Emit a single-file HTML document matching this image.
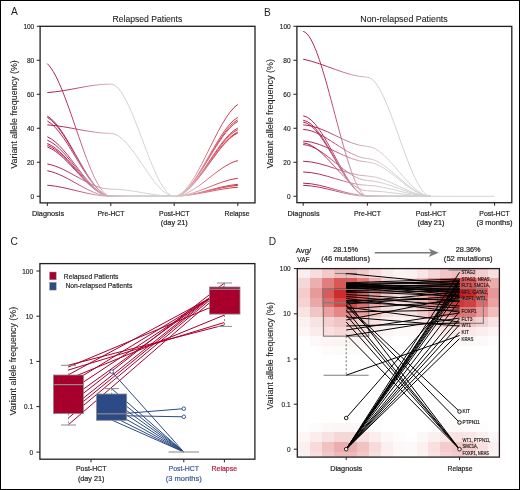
<!DOCTYPE html><html><head><meta charset="utf-8"><style>html,body{margin:0;padding:0;background:#fff;}body{width:520px;height:490px;overflow:hidden;position:relative;} .frame{position:absolute;left:0;top:0;width:520px;height:490px;box-sizing:border-box;border:1px solid #000;border-right-width:1.5px;border-bottom-width:1.5px;pointer-events:none;}</style></head><body><svg width="520" height="490" viewBox="0 0 520 490" font-family="Liberation Sans, sans-serif" style="display:block;will-change:transform">
<rect x="0" y="0" width="520" height="490" fill="#fff"/>
<defs>
<linearGradient id="gA" gradientUnits="userSpaceOnUse" x1="40" y1="0" x2="255" y2="0"><stop offset="0.0326" stop-color="#a8103e"/><stop offset="0.1395" stop-color="#b02c58"/><stop offset="0.2558" stop-color="#c88aa2"/><stop offset="0.3256" stop-color="#d2b8c2"/><stop offset="0.4093" stop-color="#d0d0d0"/><stop offset="0.6233" stop-color="#d2d2d2"/><stop offset="0.6977" stop-color="#dcaab2"/><stop offset="0.8140" stop-color="#d45060"/><stop offset="0.9209" stop-color="#c81e30"/></linearGradient>
<linearGradient id="gB" gradientUnits="userSpaceOnUse" x1="297" y1="0" x2="512" y2="0"><stop offset="0.0279" stop-color="#a8103e"/><stop offset="0.1349" stop-color="#b02c58"/><stop offset="0.2558" stop-color="#c88aa2"/><stop offset="0.3256" stop-color="#d2b8c2"/><stop offset="0.4093" stop-color="#d0d0d0"/><stop offset="0.9209" stop-color="#d2d2d2"/></linearGradient>
</defs>
<g fill="none" stroke="url(#gA)" stroke-width="0.95">
<path d="M47.30,63.65 C68.47,83.54 89.63,196.25 110.80,196.25 C131.93,196.25 153.07,196.25 174.20,196.25"/>
<path d="M47.30,92.55 C68.47,91.27 89.63,84.05 110.80,84.05 C131.93,84.05 153.07,196.25 174.20,196.25"/>
<path d="M47.30,116.01 C68.47,128.05 89.63,196.25 110.80,196.25 C131.93,196.25 153.07,196.25 174.20,196.25"/>
<path d="M47.30,117.37 C68.47,129.20 89.63,196.25 110.80,196.25 C131.93,196.25 153.07,196.25 174.20,196.25"/>
<path d="M47.30,120.94 C68.47,132.24 89.63,196.25 110.80,196.25 C131.93,196.25 153.07,196.25 174.20,196.25"/>
<path d="M47.30,124.85 C68.47,126.12 89.63,133.35 110.80,133.35 C131.93,133.35 153.07,196.25 174.20,196.25"/>
<path d="M47.30,136.75 C68.47,145.68 89.63,196.25 110.80,196.25 C131.93,196.25 153.07,196.25 174.20,196.25"/>
<path d="M47.30,140.15 C68.47,148.56 89.63,196.25 110.80,196.25 C131.93,196.25 153.07,196.25 174.20,196.25"/>
<path d="M47.30,143.55 C68.47,151.46 89.63,196.25 110.80,196.25 C131.93,196.25 153.07,196.25 174.20,196.25"/>
<path d="M47.30,145.25 C68.47,152.90 89.63,196.25 110.80,196.25 C131.93,196.25 153.07,196.25 174.20,196.25"/>
<path d="M47.30,146.95 C68.47,154.34 89.63,196.25 110.80,196.25 C131.93,196.25 153.07,196.25 174.20,196.25"/>
<path d="M47.30,163.95 C68.47,167.72 89.63,189.11 110.80,189.11 C131.93,189.11 153.07,196.25 174.20,196.25"/>
<path d="M47.30,170.75 C68.47,174.57 89.63,196.25 110.80,196.25 C131.93,196.25 153.07,196.25 174.20,196.25"/>
<path d="M47.30,185.20 C68.47,186.86 89.63,196.25 110.80,196.25 C131.93,196.25 153.07,196.25 174.20,196.25"/>
<path d="M174.20,196.25 C195.40,196.25 216.60,118.22 237.80,104.45"/>
<path d="M174.20,196.25 C195.40,196.25 216.60,129.20 237.80,117.37"/>
<path d="M174.20,196.25 C195.40,196.25 216.60,131.22 237.80,119.75"/>
<path d="M174.20,196.25 C195.40,196.25 216.60,132.67 237.80,121.45"/>
<path d="M174.20,196.25 C195.40,196.25 216.60,138.31 237.80,128.08"/>
<path d="M174.20,196.25 C195.40,196.25 216.60,139.61 237.80,129.61"/>
<path d="M174.20,196.25 C195.40,196.25 216.60,141.63 237.80,131.99"/>
<path d="M174.20,196.25 C195.40,196.25 216.60,142.50 237.80,133.01"/>
<path d="M174.20,196.25 C195.40,196.25 216.60,165.91 237.80,160.55"/>
<path d="M174.20,196.25 C195.40,196.25 216.60,180.93 237.80,178.23"/>
<path d="M174.20,196.25 C195.40,196.25 216.60,186.13 237.80,184.35"/>
<path d="M174.20,196.25 C195.40,196.25 216.60,187.00 237.80,185.37"/>
<path d="M174.20,196.25 C195.40,196.25 216.60,188.59 237.80,187.24"/>
<path d="M110.80,196.25 L174.20,196.25"/>
</g>
<g stroke="#231f20" fill="none">
<rect x="40.1" y="26.3" width="214.9" height="176.6" stroke-width="1.3"/>
<line x1="36.8" y1="196.25" x2="40" y2="196.25" stroke-width="1"/>
<line x1="36.8" y1="162.25" x2="40" y2="162.25" stroke-width="1"/>
<line x1="36.8" y1="128.25" x2="40" y2="128.25" stroke-width="1"/>
<line x1="36.8" y1="94.25" x2="40" y2="94.25" stroke-width="1"/>
<line x1="36.8" y1="60.25" x2="40" y2="60.25" stroke-width="1"/>
<line x1="36.8" y1="26.25" x2="40" y2="26.25" stroke-width="1"/>
<line x1="47.3" y1="203" x2="47.3" y2="206" stroke-width="1"/>
<line x1="110.8" y1="203" x2="110.8" y2="206" stroke-width="1"/>
<line x1="174.2" y1="203" x2="174.2" y2="206" stroke-width="1"/>
<line x1="237.8" y1="203" x2="237.8" y2="206" stroke-width="1"/>
</g>
<text x="34.20" y="198.85" font-size="7.2" text-anchor="end" fill="#231f20" stroke="#231f20" stroke-width="0.16" textLength="3.60" lengthAdjust="spacingAndGlyphs" >0</text>
<text x="34.20" y="164.85" font-size="7.2" text-anchor="end" fill="#231f20" stroke="#231f20" stroke-width="0.16" textLength="7.30" lengthAdjust="spacingAndGlyphs" >20</text>
<text x="34.20" y="130.85" font-size="7.2" text-anchor="end" fill="#231f20" stroke="#231f20" stroke-width="0.16" textLength="7.30" lengthAdjust="spacingAndGlyphs" >40</text>
<text x="34.20" y="96.85" font-size="7.2" text-anchor="end" fill="#231f20" stroke="#231f20" stroke-width="0.16" textLength="7.30" lengthAdjust="spacingAndGlyphs" >60</text>
<text x="34.20" y="62.85" font-size="7.2" text-anchor="end" fill="#231f20" stroke="#231f20" stroke-width="0.16" textLength="7.30" lengthAdjust="spacingAndGlyphs" >80</text>
<text x="34.20" y="28.85" font-size="7.2" text-anchor="end" fill="#231f20" stroke="#231f20" stroke-width="0.16" textLength="10.80" lengthAdjust="spacingAndGlyphs" >100</text>
<text x="11.00" y="15.30" font-size="10.2" text-anchor="start" fill="#231f20" stroke="#231f20" stroke-width="0" >A</text>
<text x="147.40" y="21.90" font-size="8.7" text-anchor="middle" fill="#231f20" stroke="#231f20" stroke-width="0.1" textLength="69.80" lengthAdjust="spacingAndGlyphs" >Relapsed Patients</text>
<text x="0.00" y="0.00" font-size="9.6" text-anchor="middle" fill="#231f20" stroke="#231f20" stroke-width="0.1" textLength="108.50" lengthAdjust="spacingAndGlyphs" transform="translate(16.5,114.5) rotate(-90)">Variant allele frequency (%)</text>
<text x="48.00" y="216.20" font-size="7.3" text-anchor="middle" fill="#231f20" stroke="#231f20" stroke-width="0.2" textLength="32.10" lengthAdjust="spacingAndGlyphs" >Diagnosis</text>
<text x="111.00" y="216.20" font-size="7.3" text-anchor="middle" fill="#231f20" stroke="#231f20" stroke-width="0.2" textLength="26.80" lengthAdjust="spacingAndGlyphs" >Pre-HCT</text>
<text x="174.30" y="216.20" font-size="7.3" text-anchor="middle" fill="#231f20" stroke="#231f20" stroke-width="0.2" textLength="30.50" lengthAdjust="spacingAndGlyphs" >Post-HCT</text>
<text x="174.30" y="225.20" font-size="7.3" text-anchor="middle" fill="#231f20" stroke="#231f20" stroke-width="0.2" textLength="27.00" lengthAdjust="spacingAndGlyphs" >(day 21)</text>
<text x="237.00" y="216.20" font-size="7.3" text-anchor="middle" fill="#231f20" stroke="#231f20" stroke-width="0.2" textLength="25.00" lengthAdjust="spacingAndGlyphs" >Relapse</text>
<g fill="none" stroke="url(#gB)" stroke-width="0.95">
<path d="M303.20,31.35 C324.60,36.85 346.00,196.25 367.40,196.25 C388.53,196.25 409.67,196.25 430.80,196.25"/>
<path d="M303.20,59.23 C324.60,63.43 346.00,76.35 367.40,77.25 C388.53,78.14 409.67,196.25 430.80,196.25"/>
<path d="M303.20,115.84 C324.60,118.52 346.00,196.25 367.40,196.25 C388.53,196.25 409.67,196.25 430.80,196.25"/>
<path d="M303.20,120.26 C324.60,122.79 346.00,196.25 367.40,196.25 C388.53,196.25 409.67,196.25 430.80,196.25"/>
<path d="M303.20,122.13 C324.60,124.60 346.00,196.25 367.40,196.25 C388.53,196.25 409.67,196.25 430.80,196.25"/>
<path d="M303.20,124.85 C324.60,125.57 346.00,145.36 367.40,146.44 C388.53,147.51 409.67,196.25 430.80,196.25"/>
<path d="M303.20,129.44 C324.60,130.41 346.00,157.06 367.40,158.51 C388.53,159.95 409.67,196.25 430.80,196.25"/>
<path d="M303.20,141.00 C324.60,141.70 346.00,161.03 367.40,162.08 C388.53,163.12 409.67,196.25 430.80,196.25"/>
<path d="M303.20,142.87 C324.60,144.47 346.00,190.53 367.40,190.81 C388.53,191.08 409.67,196.25 430.80,196.25"/>
<path d="M303.20,144.57 C324.60,145.77 346.00,179.64 367.40,180.44 C388.53,181.23 409.67,196.25 430.80,196.25"/>
<path d="M303.20,161.23 C324.60,161.72 346.00,175.28 367.40,176.02 C388.53,176.75 409.67,196.25 430.80,196.25"/>
<path d="M303.20,171.94 C324.60,172.39 346.00,184.82 367.40,185.37 C388.53,185.91 409.67,196.25 430.80,196.25"/>
<path d="M303.20,183.16 C324.60,183.57 346.00,195.54 367.40,195.57 C388.53,195.60 409.67,196.25 430.80,196.25"/>
<path d="M303.20,185.37 C324.60,185.73 346.00,196.25 367.40,196.25 C388.53,196.25 409.67,196.25 430.80,196.25"/>
<path d="M367.40,196.25 L494.60,196.25"/>
</g>
<g stroke="#231f20" fill="none">
<rect x="296.9" y="26.4" width="214.9" height="176.3" stroke-width="1.3"/>
<line x1="293.4" y1="196.25" x2="296.8" y2="196.25" stroke-width="1"/>
<line x1="293.4" y1="162.25" x2="296.8" y2="162.25" stroke-width="1"/>
<line x1="293.4" y1="128.25" x2="296.8" y2="128.25" stroke-width="1"/>
<line x1="293.4" y1="94.25" x2="296.8" y2="94.25" stroke-width="1"/>
<line x1="293.4" y1="60.25" x2="296.8" y2="60.25" stroke-width="1"/>
<line x1="293.4" y1="26.25" x2="296.8" y2="26.25" stroke-width="1"/>
<line x1="303.2" y1="202.7" x2="303.2" y2="205.7" stroke-width="1"/>
<line x1="367.4" y1="202.7" x2="367.4" y2="205.7" stroke-width="1"/>
<line x1="430.8" y1="202.7" x2="430.8" y2="205.7" stroke-width="1"/>
<line x1="494.6" y1="202.7" x2="494.6" y2="205.7" stroke-width="1"/>
</g>
<text x="290.60" y="198.85" font-size="7.2" text-anchor="end" fill="#231f20" stroke="#231f20" stroke-width="0.16" textLength="3.60" lengthAdjust="spacingAndGlyphs" >0</text>
<text x="290.60" y="164.85" font-size="7.2" text-anchor="end" fill="#231f20" stroke="#231f20" stroke-width="0.16" textLength="7.30" lengthAdjust="spacingAndGlyphs" >20</text>
<text x="290.60" y="130.85" font-size="7.2" text-anchor="end" fill="#231f20" stroke="#231f20" stroke-width="0.16" textLength="7.30" lengthAdjust="spacingAndGlyphs" >40</text>
<text x="290.60" y="96.85" font-size="7.2" text-anchor="end" fill="#231f20" stroke="#231f20" stroke-width="0.16" textLength="7.30" lengthAdjust="spacingAndGlyphs" >60</text>
<text x="290.60" y="62.85" font-size="7.2" text-anchor="end" fill="#231f20" stroke="#231f20" stroke-width="0.16" textLength="7.30" lengthAdjust="spacingAndGlyphs" >80</text>
<text x="290.60" y="28.85" font-size="7.2" text-anchor="end" fill="#231f20" stroke="#231f20" stroke-width="0.16" textLength="10.80" lengthAdjust="spacingAndGlyphs" >100</text>
<text x="264.00" y="15.60" font-size="10.2" text-anchor="start" fill="#231f20" stroke="#231f20" stroke-width="0" >B</text>
<text x="404.00" y="21.80" font-size="8.7" text-anchor="middle" fill="#231f20" stroke="#231f20" stroke-width="0.1" textLength="87.50" lengthAdjust="spacingAndGlyphs" >Non-relapsed Patients</text>
<text x="0.00" y="0.00" font-size="9.6" text-anchor="middle" fill="#231f20" stroke="#231f20" stroke-width="0.1" textLength="109.60" lengthAdjust="spacingAndGlyphs" transform="translate(273.3,113.8) rotate(-90)">Variant allele frequency (%)</text>
<text x="303.50" y="216.20" font-size="7.3" text-anchor="middle" fill="#231f20" stroke="#231f20" stroke-width="0.2" textLength="32.10" lengthAdjust="spacingAndGlyphs" >Diagnosis</text>
<text x="367.50" y="216.20" font-size="7.3" text-anchor="middle" fill="#231f20" stroke="#231f20" stroke-width="0.2" textLength="26.80" lengthAdjust="spacingAndGlyphs" >Pre-HCT</text>
<text x="431.00" y="216.20" font-size="7.3" text-anchor="middle" fill="#231f20" stroke="#231f20" stroke-width="0.2" textLength="30.50" lengthAdjust="spacingAndGlyphs" >Post-HCT</text>
<text x="431.00" y="225.20" font-size="7.3" text-anchor="middle" fill="#231f20" stroke="#231f20" stroke-width="0.2" textLength="27.00" lengthAdjust="spacingAndGlyphs" >(day 21)</text>
<text x="494.50" y="216.20" font-size="7.3" text-anchor="middle" fill="#231f20" stroke="#231f20" stroke-width="0.2" textLength="30.50" lengthAdjust="spacingAndGlyphs" >Post-HCT</text>
<text x="494.50" y="225.20" font-size="7.3" text-anchor="middle" fill="#231f20" stroke="#231f20" stroke-width="0.2" textLength="36.20" lengthAdjust="spacingAndGlyphs" >(3 months)</text>
<text x="10.60" y="245.00" font-size="10.2" text-anchor="start" fill="#231f20" stroke="#231f20" stroke-width="0" >C</text>
<rect x="39.9" y="263.6" width="215" height="195.6" fill="none" stroke="#231f20" stroke-width="1.3"/>
<line x1="36.4" y1="271.00" x2="39.8" y2="271.00" stroke="#231f20" stroke-width="1"/>
<text x="33.00" y="273.60" font-size="7.2" text-anchor="end" fill="#231f20" stroke="#231f20" stroke-width="0.16" textLength="10.80" lengthAdjust="spacingAndGlyphs" >100</text>
<line x1="36.4" y1="316.20" x2="39.8" y2="316.20" stroke="#231f20" stroke-width="1"/>
<text x="33.00" y="318.80" font-size="7.2" text-anchor="end" fill="#231f20" stroke="#231f20" stroke-width="0.16" textLength="7.30" lengthAdjust="spacingAndGlyphs" >10</text>
<line x1="36.4" y1="361.40" x2="39.8" y2="361.40" stroke="#231f20" stroke-width="1"/>
<text x="33.00" y="364.00" font-size="7.2" text-anchor="end" fill="#231f20" stroke="#231f20" stroke-width="0.16" textLength="3.60" lengthAdjust="spacingAndGlyphs" >1</text>
<line x1="36.4" y1="406.60" x2="39.8" y2="406.60" stroke="#231f20" stroke-width="1"/>
<text x="33.00" y="409.20" font-size="7.2" text-anchor="end" fill="#231f20" stroke="#231f20" stroke-width="0.16" textLength="9.00" lengthAdjust="spacingAndGlyphs" >0.1</text>
<line x1="36.4" y1="452.10" x2="39.8" y2="452.10" stroke="#231f20" stroke-width="1"/>
<text x="33.00" y="454.70" font-size="7.2" text-anchor="end" fill="#231f20" stroke="#231f20" stroke-width="0.16" textLength="3.60" lengthAdjust="spacingAndGlyphs" >0</text>
<line x1="91" y1="459.5" x2="91" y2="462.3" stroke="#231f20" stroke-width="1"/>
<line x1="183.8" y1="459.5" x2="183.8" y2="462.3" stroke="#231f20" stroke-width="1"/>
<line x1="224.4" y1="459.5" x2="224.4" y2="462.3" stroke="#231f20" stroke-width="1"/>
<text x="0.00" y="0.00" font-size="9.6" text-anchor="middle" fill="#231f20" stroke="#231f20" stroke-width="0.1" textLength="108.70" lengthAdjust="spacingAndGlyphs" transform="translate(16.4,361.2) rotate(-90)">Variant allele frequency (%)</text>
<rect x="49.6" y="272" width="6.6" height="7.8" fill="#a8002c" stroke="#999" stroke-width="0.5"/>
<rect x="49.6" y="282.3" width="6.6" height="7.8" fill="#2c4a85" stroke="#999" stroke-width="0.5"/>
<text x="63.80" y="278.60" font-size="7.8" text-anchor="start" fill="#231f20" stroke="#231f20" stroke-width="0.2" textLength="54.60" lengthAdjust="spacingAndGlyphs" >Relapsed Patients</text>
<text x="65.40" y="287.80" font-size="7.8" text-anchor="start" fill="#231f20" stroke="#231f20" stroke-width="0.2" textLength="66.90" lengthAdjust="spacingAndGlyphs" >Non-relapsed Patients</text>
<g stroke="#a8002c" stroke-width="1" fill="none">
<line x1="68.4" y1="365.2" x2="224.3" y2="325"/>
<line x1="68.4" y1="367" x2="224.3" y2="301.6"/>
<line x1="68.4" y1="370" x2="224.3" y2="322.5"/>
<line x1="68.4" y1="374.8" x2="224.3" y2="290.4"/>
<line x1="68.4" y1="379" x2="224.3" y2="315.1"/>
<line x1="68.4" y1="384.5" x2="224.3" y2="289.4"/>
<line x1="68.4" y1="392" x2="224.3" y2="288.9"/>
<line x1="68.4" y1="400" x2="224.3" y2="287.1"/>
<line x1="68.4" y1="405" x2="224.3" y2="283.1"/>
<line x1="68.4" y1="410" x2="224.3" y2="286.0"/>
<line x1="68.4" y1="413.7" x2="224.3" y2="286.7"/>
<line x1="68.4" y1="418" x2="224.3" y2="288"/>
<line x1="68.4" y1="424.7" x2="224.3" y2="290.1"/>
</g>
<g stroke="#2c4a85" stroke-width="1" fill="none">
<line x1="111.7" y1="371.6" x2="183.8" y2="452"/>
<line x1="111.7" y1="388.6" x2="183.8" y2="452"/>
<line x1="111.7" y1="394.3" x2="183.8" y2="452"/>
<line x1="111.7" y1="399.8" x2="183.8" y2="452"/>
<line x1="111.7" y1="405.4" x2="183.8" y2="452"/>
<line x1="111.7" y1="411" x2="183.8" y2="452"/>
<line x1="111.7" y1="416" x2="183.8" y2="452"/>
<line x1="111.7" y1="420" x2="183.8" y2="452"/>
<line x1="111.7" y1="414.5" x2="183.8" y2="408.7"/>
<line x1="111.7" y1="415.5" x2="183.8" y2="416.8"/>
</g>
<g stroke="#8c8c8c" stroke-width="1" fill="none">
<line x1="68.4" y1="365.3" x2="68.4" y2="425" stroke-dasharray="2,2"/>
<line x1="61" y1="365.3" x2="76" y2="365.3"/><line x1="61" y1="425" x2="76" y2="425"/>
</g>
<rect x="53.4" y="375" width="30" height="38.6" fill="#a8002c" stroke="#8c8c8c" stroke-width="0.8"/>
<line x1="53.4" y1="384.6" x2="83.4" y2="384.6" stroke="#8c8c8c" stroke-width="1.2"/>
<line x1="105" y1="388.6" x2="119" y2="388.6" stroke="#8c8c8c" stroke-width="1"/>
<line x1="111.7" y1="388.6" x2="111.7" y2="394" stroke="#8c8c8c" stroke-width="1" stroke-dasharray="2,2"/>
<rect x="96.5" y="394" width="30.2" height="26.3" fill="#2c4a85" stroke="#8c8c8c" stroke-width="0.8"/>
<line x1="96.5" y1="413.8" x2="126.7" y2="413.8" stroke="#8c8c8c" stroke-width="1.2"/>
<circle cx="111.7" cy="371.6" r="1.8" fill="#fff" stroke="#2c4a85" stroke-width="0.9"/>
<circle cx="183.8" cy="408.7" r="1.8" fill="#fff" stroke="#2c4a85" stroke-width="0.9"/>
<circle cx="183.8" cy="416.8" r="1.8" fill="#fff" stroke="#2c4a85" stroke-width="0.9"/>
<line x1="168.5" y1="452" x2="199" y2="452" stroke="#a8a8a8" stroke-width="1.4"/>
<g stroke="#8c8c8c" stroke-width="1" fill="none">
<line x1="224.5" y1="283" x2="224.5" y2="326.4" stroke-dasharray="2,2"/>
<line x1="217" y1="283" x2="232" y2="283"/><line x1="217" y1="326.4" x2="232" y2="326.4"/>
</g>
<rect x="209.4" y="287" width="30.6" height="27.1" fill="#a8002c" stroke="#8c8c8c" stroke-width="0.8"/>
<line x1="209.4" y1="289.3" x2="240" y2="289.3" stroke="#8c8c8c" stroke-width="1.2"/>
<text x="91.20" y="471.40" font-size="7.3" text-anchor="middle" fill="#231f20" stroke="#231f20" stroke-width="0.2" textLength="30.50" lengthAdjust="spacingAndGlyphs" >Post-HCT</text>
<text x="91.20" y="480.60" font-size="7.3" text-anchor="middle" fill="#231f20" stroke="#231f20" stroke-width="0.2" textLength="26.60" lengthAdjust="spacingAndGlyphs" >(day 21)</text>
<text x="183.80" y="471.40" font-size="7.3" text-anchor="middle" fill="#3b5a9a" stroke="#3b5a9a" stroke-width="0.2" textLength="30.50" lengthAdjust="spacingAndGlyphs" >Post-HCT</text>
<text x="183.80" y="480.60" font-size="7.3" text-anchor="middle" fill="#3b5a9a" stroke="#3b5a9a" stroke-width="0.2" textLength="36.00" lengthAdjust="spacingAndGlyphs" >(3 months)</text>
<text x="224.30" y="471.40" font-size="7.3" text-anchor="middle" fill="#b01c3c" stroke="#b01c3c" stroke-width="0.2" textLength="25.50" lengthAdjust="spacingAndGlyphs" >Relapse</text>
<text x="268.80" y="244.60" font-size="10.2" text-anchor="start" fill="#231f20" stroke="#231f20" stroke-width="0" >D</text>
<g shape-rendering="crispEdges"><rect x="298.00" y="268.80" width="11.90" height="9.68" fill="#fbeeee"/><rect x="309.85" y="268.80" width="11.90" height="9.68" fill="#f7dede"/><rect x="321.70" y="268.80" width="11.90" height="9.68" fill="#f2c9c9"/><rect x="333.55" y="268.80" width="11.90" height="9.68" fill="#efbaba"/><rect x="345.40" y="268.80" width="11.90" height="9.68" fill="#efbaba"/><rect x="357.25" y="268.80" width="11.90" height="9.68" fill="#f2c9c9"/><rect x="369.10" y="268.80" width="11.90" height="9.68" fill="#f7dddd"/><rect x="380.95" y="268.80" width="11.90" height="9.68" fill="#fbecec"/><rect x="392.80" y="268.80" width="11.90" height="9.68" fill="#fcf3f3"/><rect x="404.65" y="268.80" width="11.90" height="9.68" fill="#fcf1f1"/><rect x="416.50" y="268.80" width="11.90" height="9.68" fill="#f9e7e7"/><rect x="428.35" y="268.80" width="11.90" height="9.68" fill="#f5d6d6"/><rect x="440.20" y="268.80" width="11.90" height="9.68" fill="#f1c5c5"/><rect x="452.05" y="268.80" width="11.90" height="9.68" fill="#efbbbb"/><rect x="463.90" y="268.80" width="11.90" height="9.68" fill="#f0bebe"/><rect x="475.75" y="268.80" width="11.90" height="9.68" fill="#f3cdcd"/><rect x="487.60" y="268.80" width="11.90" height="9.68" fill="#f8e0e0"/><rect x="298.00" y="278.43" width="11.90" height="9.68" fill="#f6d7d7"/><rect x="309.85" y="278.43" width="11.90" height="9.68" fill="#ecafaf"/><rect x="321.70" y="278.43" width="11.90" height="9.68" fill="#e07d7d"/><rect x="333.55" y="278.43" width="11.90" height="9.68" fill="#d85858"/><rect x="345.40" y="278.43" width="11.90" height="9.68" fill="#d75858"/><rect x="357.25" y="278.43" width="11.90" height="9.68" fill="#e07c7c"/><rect x="369.10" y="278.43" width="11.90" height="9.68" fill="#ecadad"/><rect x="380.95" y="278.43" width="11.90" height="9.68" fill="#f4d2d2"/><rect x="392.80" y="278.43" width="11.90" height="9.68" fill="#f8e1e1"/><rect x="404.65" y="278.43" width="11.90" height="9.68" fill="#f6dada"/><rect x="416.50" y="278.43" width="11.90" height="9.68" fill="#f0c0c0"/><rect x="428.35" y="278.43" width="11.90" height="9.68" fill="#e69494"/><rect x="440.20" y="278.43" width="11.90" height="9.68" fill="#db6666"/><rect x="452.05" y="278.43" width="11.90" height="9.68" fill="#d54c4c"/><rect x="463.90" y="278.43" width="11.90" height="9.68" fill="#d75555"/><rect x="475.75" y="278.43" width="11.90" height="9.68" fill="#e07d7d"/><rect x="487.60" y="278.43" width="11.90" height="9.68" fill="#ecadad"/><rect x="298.00" y="288.05" width="11.90" height="9.68" fill="#f3cccc"/><rect x="309.85" y="288.05" width="11.90" height="9.68" fill="#e79a9a"/><rect x="321.70" y="288.05" width="11.90" height="9.68" fill="#d85a5a"/><rect x="333.55" y="288.05" width="11.90" height="9.68" fill="#cd2c2c"/><rect x="345.40" y="288.05" width="11.90" height="9.68" fill="#cd2c2c"/><rect x="357.25" y="288.05" width="11.90" height="9.68" fill="#d85a5a"/><rect x="369.10" y="288.05" width="11.90" height="9.68" fill="#e69797"/><rect x="380.95" y="288.05" width="11.90" height="9.68" fill="#f2c6c6"/><rect x="392.80" y="288.05" width="11.90" height="9.68" fill="#f6d9d9"/><rect x="404.65" y="288.05" width="11.90" height="9.68" fill="#f4d1d1"/><rect x="416.50" y="288.05" width="11.90" height="9.68" fill="#ecafaf"/><rect x="428.35" y="288.05" width="11.90" height="9.68" fill="#df7878"/><rect x="440.20" y="288.05" width="11.90" height="9.68" fill="#d13e3e"/><rect x="452.05" y="288.05" width="11.90" height="9.68" fill="#c91d1d"/><rect x="463.90" y="288.05" width="11.90" height="9.68" fill="#cc2828"/><rect x="475.75" y="288.05" width="11.90" height="9.68" fill="#d85a5a"/><rect x="487.60" y="288.05" width="11.90" height="9.68" fill="#e69797"/><rect x="298.00" y="297.68" width="11.90" height="9.68" fill="#f5d3d3"/><rect x="309.85" y="297.68" width="11.90" height="9.68" fill="#eaa7a7"/><rect x="321.70" y="297.68" width="11.90" height="9.68" fill="#dd6f6f"/><rect x="333.55" y="297.68" width="11.90" height="9.68" fill="#d34747"/><rect x="345.40" y="297.68" width="11.90" height="9.68" fill="#d34747"/><rect x="357.25" y="297.68" width="11.90" height="9.68" fill="#dd6f6f"/><rect x="369.10" y="297.68" width="11.90" height="9.68" fill="#eaa4a4"/><rect x="380.95" y="297.68" width="11.90" height="9.68" fill="#f3cdcd"/><rect x="392.80" y="297.68" width="11.90" height="9.68" fill="#f7dede"/><rect x="404.65" y="297.68" width="11.90" height="9.68" fill="#f5d6d6"/><rect x="416.50" y="297.68" width="11.90" height="9.68" fill="#eeb8b8"/><rect x="428.35" y="297.68" width="11.90" height="9.68" fill="#e38787"/><rect x="440.20" y="297.68" width="11.90" height="9.68" fill="#d65353"/><rect x="452.05" y="297.68" width="11.90" height="9.68" fill="#cf3636"/><rect x="463.90" y="297.68" width="11.90" height="9.68" fill="#d24040"/><rect x="475.75" y="297.68" width="11.90" height="9.68" fill="#dc6c6c"/><rect x="487.60" y="297.68" width="11.90" height="9.68" fill="#e9a3a3"/><rect x="298.00" y="307.30" width="11.90" height="9.68" fill="#f8e2e2"/><rect x="309.85" y="307.30" width="11.90" height="9.68" fill="#f1c5c5"/><rect x="321.70" y="307.30" width="11.90" height="9.68" fill="#e9a1a1"/><rect x="333.55" y="307.30" width="11.90" height="9.68" fill="#e38787"/><rect x="345.40" y="307.30" width="11.90" height="9.68" fill="#e28686"/><rect x="357.25" y="307.30" width="11.90" height="9.68" fill="#e9a0a0"/><rect x="369.10" y="307.30" width="11.90" height="9.68" fill="#f1c3c3"/><rect x="380.95" y="307.30" width="11.90" height="9.68" fill="#f7dede"/><rect x="392.80" y="307.30" width="11.90" height="9.68" fill="#fae8e8"/><rect x="404.65" y="307.30" width="11.90" height="9.68" fill="#f8e3e3"/><rect x="416.50" y="307.30" width="11.90" height="9.68" fill="#f3cdcd"/><rect x="428.35" y="307.30" width="11.90" height="9.68" fill="#ebabab"/><rect x="440.20" y="307.30" width="11.90" height="9.68" fill="#e28686"/><rect x="452.05" y="307.30" width="11.90" height="9.68" fill="#de7272"/><rect x="463.90" y="307.30" width="11.90" height="9.68" fill="#df7979"/><rect x="475.75" y="307.30" width="11.90" height="9.68" fill="#e79898"/><rect x="487.60" y="307.30" width="11.90" height="9.68" fill="#f0bebe"/><rect x="298.00" y="316.93" width="11.90" height="9.68" fill="#fcf1f1"/><rect x="309.85" y="316.93" width="11.90" height="9.68" fill="#f8e3e3"/><rect x="321.70" y="316.93" width="11.90" height="9.68" fill="#f4d1d1"/><rect x="333.55" y="316.93" width="11.90" height="9.68" fill="#f1c4c4"/><rect x="345.40" y="316.93" width="11.90" height="9.68" fill="#f1c4c4"/><rect x="357.25" y="316.93" width="11.90" height="9.68" fill="#f4d1d1"/><rect x="369.10" y="316.93" width="11.90" height="9.68" fill="#f8e2e2"/><rect x="380.95" y="316.93" width="11.90" height="9.68" fill="#fbefef"/><rect x="392.80" y="316.93" width="11.90" height="9.68" fill="#fcf4f4"/><rect x="404.65" y="316.93" width="11.90" height="9.68" fill="#fcf2f2"/><rect x="416.50" y="316.93" width="11.90" height="9.68" fill="#fae8e8"/><rect x="428.35" y="316.93" width="11.90" height="9.68" fill="#f6d9d9"/><rect x="440.20" y="316.93" width="11.90" height="9.68" fill="#f2c9c9"/><rect x="452.05" y="316.93" width="11.90" height="9.68" fill="#f0c0c0"/><rect x="463.90" y="316.93" width="11.90" height="9.68" fill="#f1c3c3"/><rect x="475.75" y="316.93" width="11.90" height="9.68" fill="#f4d1d1"/><rect x="487.60" y="316.93" width="11.90" height="9.68" fill="#f8e2e2"/><rect x="298.00" y="326.55" width="11.90" height="9.68" fill="#fdf6f6"/><rect x="309.85" y="326.55" width="11.90" height="9.68" fill="#fbecec"/><rect x="321.70" y="326.55" width="11.90" height="9.68" fill="#f8e0e0"/><rect x="333.55" y="326.55" width="11.90" height="9.68" fill="#f6d8d8"/><rect x="345.40" y="326.55" width="11.90" height="9.68" fill="#f6d8d8"/><rect x="357.25" y="326.55" width="11.90" height="9.68" fill="#f8e0e0"/><rect x="369.10" y="326.55" width="11.90" height="9.68" fill="#faecec"/><rect x="380.95" y="326.55" width="11.90" height="9.68" fill="#fdf5f5"/><rect x="392.80" y="326.55" width="11.90" height="9.68" fill="#fef9f9"/><rect x="404.65" y="326.55" width="11.90" height="9.68" fill="#fef9f9"/><rect x="416.50" y="326.55" width="11.90" height="9.68" fill="#fdf6f6"/><rect x="428.35" y="326.55" width="11.90" height="9.68" fill="#fcf1f1"/><rect x="440.20" y="326.55" width="11.90" height="9.68" fill="#faebeb"/><rect x="452.05" y="326.55" width="11.90" height="9.68" fill="#fae8e8"/><rect x="463.90" y="326.55" width="11.90" height="9.68" fill="#fae9e9"/><rect x="475.75" y="326.55" width="11.90" height="9.68" fill="#fbeeee"/><rect x="487.60" y="326.55" width="11.90" height="9.68" fill="#fdf5f5"/><rect x="309.85" y="336.18" width="11.90" height="9.68" fill="#fef9f9"/><rect x="321.70" y="336.18" width="11.90" height="9.68" fill="#fdf5f5"/><rect x="333.55" y="336.18" width="11.90" height="9.68" fill="#fcf3f3"/><rect x="345.40" y="336.18" width="11.90" height="9.68" fill="#fcf3f3"/><rect x="357.25" y="336.18" width="11.90" height="9.68" fill="#fdf5f5"/><rect x="369.10" y="336.18" width="11.90" height="9.68" fill="#fef9f9"/><rect x="380.95" y="336.18" width="11.90" height="9.68" fill="#fefcfc"/><rect x="428.35" y="336.18" width="11.90" height="9.68" fill="#fefafa"/><rect x="440.20" y="336.18" width="11.90" height="9.68" fill="#fdf8f8"/><rect x="452.05" y="336.18" width="11.90" height="9.68" fill="#fdf7f7"/><rect x="463.90" y="336.18" width="11.90" height="9.68" fill="#fdf8f8"/><rect x="475.75" y="336.18" width="11.90" height="9.68" fill="#fef9f9"/><rect x="487.60" y="336.18" width="11.90" height="9.68" fill="#fefcfc"/><rect x="321.70" y="345.80" width="11.90" height="9.68" fill="#fefbfb"/><rect x="333.55" y="345.80" width="11.90" height="9.68" fill="#fefafa"/><rect x="345.40" y="345.80" width="11.90" height="9.68" fill="#fefafa"/><rect x="357.25" y="345.80" width="11.90" height="9.68" fill="#fefbfb"/><rect x="309.85" y="422.80" width="11.90" height="9.68" fill="#fefbfb"/><rect x="321.70" y="422.80" width="11.90" height="9.68" fill="#fdf8f8"/><rect x="333.55" y="422.80" width="11.90" height="9.68" fill="#fdf6f6"/><rect x="345.40" y="422.80" width="11.90" height="9.68" fill="#fdf6f6"/><rect x="357.25" y="422.80" width="11.90" height="9.68" fill="#fdf8f8"/><rect x="369.10" y="422.80" width="11.90" height="9.68" fill="#fefbfb"/><rect x="428.35" y="422.80" width="11.90" height="9.68" fill="#fefcfc"/><rect x="440.20" y="422.80" width="11.90" height="9.68" fill="#fefafa"/><rect x="452.05" y="422.80" width="11.90" height="9.68" fill="#fef9f9"/><rect x="463.90" y="422.80" width="11.90" height="9.68" fill="#fefafa"/><rect x="475.75" y="422.80" width="11.90" height="9.68" fill="#fefcfc"/><rect x="298.00" y="432.43" width="11.90" height="9.68" fill="#fdf7f7"/><rect x="309.85" y="432.43" width="11.90" height="9.68" fill="#fbeded"/><rect x="321.70" y="432.43" width="11.90" height="9.68" fill="#f8e1e1"/><rect x="333.55" y="432.43" width="11.90" height="9.68" fill="#f6d7d7"/><rect x="345.40" y="432.43" width="11.90" height="9.68" fill="#f6d7d7"/><rect x="357.25" y="432.43" width="11.90" height="9.68" fill="#f8e1e1"/><rect x="369.10" y="432.43" width="11.90" height="9.68" fill="#fbeded"/><rect x="380.95" y="432.43" width="11.90" height="9.68" fill="#fdf7f7"/><rect x="392.80" y="432.43" width="11.90" height="9.68" fill="#fefcfc"/><rect x="416.50" y="432.43" width="11.90" height="9.68" fill="#fdf8f8"/><rect x="428.35" y="432.43" width="11.90" height="9.68" fill="#fbf0f0"/><rect x="440.20" y="432.43" width="11.90" height="9.68" fill="#f9e6e6"/><rect x="452.05" y="432.43" width="11.90" height="9.68" fill="#f8e2e2"/><rect x="463.90" y="432.43" width="11.90" height="9.68" fill="#f9e6e6"/><rect x="475.75" y="432.43" width="11.90" height="9.68" fill="#fbf0f0"/><rect x="487.60" y="432.43" width="11.90" height="9.68" fill="#fdf8f8"/><rect x="298.00" y="442.05" width="11.90" height="9.68" fill="#fbefef"/><rect x="309.85" y="442.05" width="11.90" height="9.68" fill="#f7dbdb"/><rect x="321.70" y="442.05" width="11.90" height="9.68" fill="#f1c2c2"/><rect x="333.55" y="442.05" width="11.90" height="9.68" fill="#ecafaf"/><rect x="345.40" y="442.05" width="11.90" height="9.68" fill="#ecafaf"/><rect x="357.25" y="442.05" width="11.90" height="9.68" fill="#f1c2c2"/><rect x="369.10" y="442.05" width="11.90" height="9.68" fill="#f7dbdb"/><rect x="380.95" y="442.05" width="11.90" height="9.68" fill="#fbefef"/><rect x="392.80" y="442.05" width="11.90" height="9.68" fill="#fdf8f8"/><rect x="404.65" y="442.05" width="11.90" height="9.68" fill="#fef9f9"/><rect x="416.50" y="442.05" width="11.90" height="9.68" fill="#fcf1f1"/><rect x="428.35" y="442.05" width="11.90" height="9.68" fill="#f8e0e0"/><rect x="440.20" y="442.05" width="11.90" height="9.68" fill="#f3cdcd"/><rect x="452.05" y="442.05" width="11.90" height="9.68" fill="#f1c5c5"/><rect x="463.90" y="442.05" width="11.90" height="9.68" fill="#f3cdcd"/><rect x="475.75" y="442.05" width="11.90" height="9.68" fill="#f8e0e0"/><rect x="487.60" y="442.05" width="11.90" height="9.68" fill="#fcf1f1"/><rect x="298.00" y="451.68" width="11.90" height="5.57" fill="#fcf1f1"/><rect x="309.85" y="451.68" width="11.90" height="5.57" fill="#f8e0e0"/><rect x="321.70" y="451.68" width="11.90" height="5.57" fill="#f3caca"/><rect x="333.55" y="451.68" width="11.90" height="5.57" fill="#efbaba"/><rect x="345.40" y="451.68" width="11.90" height="5.57" fill="#efbaba"/><rect x="357.25" y="451.68" width="11.90" height="5.57" fill="#f3caca"/><rect x="369.10" y="451.68" width="11.90" height="5.57" fill="#f8e0e0"/><rect x="380.95" y="451.68" width="11.90" height="5.57" fill="#fcf1f1"/><rect x="392.80" y="451.68" width="11.90" height="5.57" fill="#fef9f9"/><rect x="404.65" y="451.68" width="11.90" height="5.57" fill="#fefafa"/><rect x="416.50" y="451.68" width="11.90" height="5.57" fill="#fcf3f3"/><rect x="428.35" y="451.68" width="11.90" height="5.57" fill="#f9e4e4"/><rect x="440.20" y="451.68" width="11.90" height="5.57" fill="#f5d4d4"/><rect x="452.05" y="451.68" width="11.90" height="5.57" fill="#f3cdcd"/><rect x="463.90" y="451.68" width="11.90" height="5.57" fill="#f5d4d4"/><rect x="475.75" y="451.68" width="11.90" height="5.57" fill="#f9e4e4"/><rect x="487.60" y="451.68" width="11.90" height="5.57" fill="#fcf3f3"/></g>
<g stroke="#7d7d7d" stroke-width="1.1" fill="none">
<rect x="323.5" y="289.4" width="45.2" height="46.8"/>
<line x1="323.5" y1="302.6" x2="368.7" y2="302.6"/>
<line x1="335" y1="273.5" x2="357" y2="273.5"/>
<line x1="346.2" y1="273.5" x2="346.2" y2="289.4" stroke-dasharray="2,2"/>
<line x1="346.2" y1="336.2" x2="346.2" y2="375.2" stroke-dasharray="2,2"/>
<line x1="323.6" y1="375.2" x2="368.6" y2="375.2"/>
<rect x="437.4" y="288.3" width="46.0" height="35.0"/>
<line x1="437.4" y1="299.6" x2="483.4" y2="299.6"/>
<line x1="448.5" y1="270" x2="470.5" y2="270"/>
</g>
<g stroke="#000" stroke-width="1.0" fill="none">
<line x1="346.2" y1="282.8" x2="459.5" y2="279"/>
<line x1="346.2" y1="283.2" x2="459.5" y2="290"/>
<line x1="346.2" y1="283.6" x2="459.5" y2="281.5"/>
<line x1="346.2" y1="284.0" x2="459.5" y2="293"/>
<line x1="346.2" y1="284.4" x2="459.5" y2="283"/>
<line x1="346.2" y1="284.8" x2="459.5" y2="287"/>
<line x1="346.2" y1="285.2" x2="459.5" y2="295"/>
<line x1="346.2" y1="285.6" x2="459.5" y2="280.5"/>
<line x1="346.2" y1="286.0" x2="459.5" y2="291.5"/>
<line x1="346.2" y1="286.5" x2="459.5" y2="285"/>
<line x1="346.2" y1="287.0" x2="459.5" y2="297"/>
<line x1="346.2" y1="287.5" x2="459.5" y2="284"/>
<line x1="346.2" y1="288.0" x2="459.5" y2="289"/>
<line x1="346.2" y1="288.4" x2="459.5" y2="286.5"/>
<line x1="346.2" y1="273.5" x2="459.5" y2="284.2"/>
<line x1="346.2" y1="290.5" x2="459.5" y2="289"/>
<line x1="346.2" y1="291.5" x2="459.5" y2="296"/>
<line x1="346.2" y1="292.5" x2="459.5" y2="291"/>
<line x1="346.2" y1="294.5" x2="459.5" y2="301"/>
<line x1="346.2" y1="296.5" x2="459.5" y2="306"/>
<line x1="346.2" y1="298.5" x2="459.5" y2="312"/>
<line x1="346.2" y1="300.5" x2="459.5" y2="299"/>
<line x1="346.2" y1="301.8" x2="459.5" y2="308"/>
<line x1="346.2" y1="302.4" x2="459.5" y2="292"/>
<line x1="346.2" y1="304" x2="459.5" y2="296"/>
<line x1="346.2" y1="307" x2="459.5" y2="322"/>
<line x1="346.2" y1="309" x2="459.5" y2="301"/>
<line x1="346.2" y1="312" x2="459.5" y2="310"/>
<line x1="346.2" y1="317" x2="459.5" y2="326"/>
<line x1="346.2" y1="320" x2="459.5" y2="297.5"/>
<line x1="346.2" y1="326" x2="459.5" y2="323"/>
<line x1="346.2" y1="330" x2="459.5" y2="313"/>
<line x1="346.2" y1="336" x2="459.5" y2="318"/>
<line x1="346.2" y1="375.2" x2="459.5" y2="335.5"/>
<line x1="346.2" y1="418" x2="459.5" y2="289"/>
<line x1="346.2" y1="300" x2="459.5" y2="449.2"/>
<line x1="346.2" y1="310" x2="459.5" y2="449.2"/>
<line x1="346.2" y1="315" x2="459.5" y2="449.2"/>
<line x1="346.2" y1="322" x2="459.5" y2="449.2"/>
<line x1="346.2" y1="334.6" x2="459.5" y2="449.2"/>
<line x1="346.2" y1="305" x2="459.5" y2="411.5"/>
<line x1="346.2" y1="305.7" x2="459.5" y2="422.5"/>
<line x1="346.2" y1="449.2" x2="459.5" y2="272.3"/>
<line x1="346.2" y1="449.2" x2="459.5" y2="279.3"/>
<line x1="346.2" y1="449.2" x2="459.5" y2="281"/>
<line x1="346.2" y1="449.2" x2="459.5" y2="283"/>
<line x1="346.2" y1="449.2" x2="459.5" y2="285.7"/>
<line x1="346.2" y1="449.2" x2="459.5" y2="288"/>
<line x1="346.2" y1="449.2" x2="459.5" y2="292.1"/>
<line x1="346.2" y1="449.2" x2="459.5" y2="300.8"/>
<line x1="346.2" y1="449.2" x2="459.5" y2="311.7"/>
<line x1="346.2" y1="449.2" x2="459.5" y2="318.8"/>
<line x1="346.2" y1="449.2" x2="459.5" y2="324.8"/>
<line x1="346.2" y1="449.2" x2="459.5" y2="332.2"/>
<line x1="346.2" y1="449.2" x2="459.5" y2="338.6"/>
</g>
<circle cx="346.2" cy="418" r="1.8" fill="#f4f0f0" stroke="#231f20" stroke-width="1.0"/>
<circle cx="346.2" cy="449.2" r="1.8" fill="#f4f0f0" stroke="#231f20" stroke-width="1.0"/>
<circle cx="459.5" cy="411.5" r="1.8" fill="#f4f0f0" stroke="#231f20" stroke-width="1.0"/>
<circle cx="459.5" cy="422.5" r="1.8" fill="#f4f0f0" stroke="#231f20" stroke-width="1.0"/>
<circle cx="459.5" cy="449.2" r="1.8" fill="#f4f0f0" stroke="#231f20" stroke-width="1.0"/>
<rect x="297.3" y="268.6" width="202.1" height="188.5" fill="none" stroke="#231f20" stroke-width="1.3"/>
<line x1="293.8" y1="268.60" x2="297.2" y2="268.60" stroke="#231f20" stroke-width="1"/>
<text x="290.60" y="271.20" font-size="7.2" text-anchor="end" fill="#231f20" stroke="#231f20" stroke-width="0.16" textLength="10.80" lengthAdjust="spacingAndGlyphs" >100</text>
<line x1="293.8" y1="313.80" x2="297.2" y2="313.80" stroke="#231f20" stroke-width="1"/>
<text x="290.60" y="316.40" font-size="7.2" text-anchor="end" fill="#231f20" stroke="#231f20" stroke-width="0.16" textLength="7.30" lengthAdjust="spacingAndGlyphs" >10</text>
<line x1="293.8" y1="359.00" x2="297.2" y2="359.00" stroke="#231f20" stroke-width="1"/>
<text x="290.60" y="361.60" font-size="7.2" text-anchor="end" fill="#231f20" stroke="#231f20" stroke-width="0.16" textLength="3.60" lengthAdjust="spacingAndGlyphs" >1</text>
<line x1="293.8" y1="404.20" x2="297.2" y2="404.20" stroke="#231f20" stroke-width="1"/>
<text x="290.60" y="406.80" font-size="7.2" text-anchor="end" fill="#231f20" stroke="#231f20" stroke-width="0.16" textLength="9.00" lengthAdjust="spacingAndGlyphs" >0.1</text>
<line x1="293.8" y1="449.20" x2="297.2" y2="449.20" stroke="#231f20" stroke-width="1"/>
<text x="290.60" y="451.80" font-size="7.2" text-anchor="end" fill="#231f20" stroke="#231f20" stroke-width="0.16" textLength="3.60" lengthAdjust="spacingAndGlyphs" >0</text>
<line x1="346.2" y1="457.1" x2="346.2" y2="460" stroke="#231f20" stroke-width="1"/>
<line x1="459.5" y1="457.1" x2="459.5" y2="460" stroke="#231f20" stroke-width="1"/>
<text x="0.00" y="0.00" font-size="9.6" text-anchor="middle" fill="#231f20" stroke="#231f20" stroke-width="0.1" textLength="107.20" lengthAdjust="spacingAndGlyphs" transform="translate(273.3,355.8) rotate(-90)">Variant allele frequency (%)</text>
<text x="346.20" y="470.50" font-size="7.3" text-anchor="middle" fill="#231f20" stroke="#231f20" stroke-width="0.2" textLength="32.10" lengthAdjust="spacingAndGlyphs" >Diagnosis</text>
<text x="460.00" y="470.50" font-size="7.3" text-anchor="middle" fill="#231f20" stroke="#231f20" stroke-width="0.2" textLength="25.10" lengthAdjust="spacingAndGlyphs" >Relapse</text>
<text x="303.50" y="252.80" font-size="7.3" text-anchor="middle" fill="#231f20" stroke="#231f20" stroke-width="0.2" textLength="15.40" lengthAdjust="spacingAndGlyphs" >Avg/</text>
<text x="303.50" y="261.50" font-size="7.3" text-anchor="middle" fill="#231f20" stroke="#231f20" stroke-width="0.2" textLength="12.30" lengthAdjust="spacingAndGlyphs" >VAF</text>
<text x="345.60" y="252.20" font-size="7.3" text-anchor="middle" fill="#231f20" stroke="#231f20" stroke-width="0.2" textLength="24.80" lengthAdjust="spacingAndGlyphs" >28.15%</text>
<text x="345.60" y="261.30" font-size="7.3" text-anchor="middle" fill="#231f20" stroke="#231f20" stroke-width="0.2" textLength="48.70" lengthAdjust="spacingAndGlyphs" >(46 mutations)</text>
<text x="468.20" y="252.20" font-size="7.3" text-anchor="middle" fill="#231f20" stroke="#231f20" stroke-width="0.2" textLength="24.80" lengthAdjust="spacingAndGlyphs" >28.36%</text>
<text x="468.20" y="261.30" font-size="7.3" text-anchor="middle" fill="#231f20" stroke="#231f20" stroke-width="0.2" textLength="48.70" lengthAdjust="spacingAndGlyphs" >(52 mutations)</text>
<line x1="374.8" y1="252.7" x2="434" y2="252.7" stroke="#7a7a7a" stroke-width="1.5"/>
<path d="M438.8,252.7 L428.6,248.5 L431.5,252.7 L428.6,256.9 Z" fill="#7a7a7a"/>
<text x="461.50" y="273.70" font-size="5.5" text-anchor="start" fill="#231f20" stroke="#231f20" stroke-width="0.2" textLength="13.80" lengthAdjust="spacingAndGlyphs" >STAG2</text>
<text x="461.50" y="281.00" font-size="5.5" text-anchor="start" fill="#231f20" stroke="#231f20" stroke-width="0.2" textLength="29.40" lengthAdjust="spacingAndGlyphs" >STAG2, NRAS,</text>
<text x="461.50" y="287.30" font-size="5.5" text-anchor="start" fill="#231f20" stroke="#231f20" stroke-width="0.2" textLength="28.50" lengthAdjust="spacingAndGlyphs" >FLT3, SMC1A,</text>
<text x="461.50" y="293.50" font-size="5.5" text-anchor="start" fill="#231f20" stroke="#231f20" stroke-width="0.2" textLength="26.40" lengthAdjust="spacingAndGlyphs" >NF1, GATA2,</text>
<text x="461.50" y="300.00" font-size="5.5" text-anchor="start" fill="#231f20" stroke="#231f20" stroke-width="0.2" textLength="25.50" lengthAdjust="spacingAndGlyphs" >IKZF1, WT1,</text>
<text x="461.50" y="313.40" font-size="5.5" text-anchor="start" fill="#231f20" stroke="#231f20" stroke-width="0.2" textLength="15.00" lengthAdjust="spacingAndGlyphs" >FOXP1</text>
<text x="461.50" y="321.20" font-size="5.5" text-anchor="start" fill="#231f20" stroke="#231f20" stroke-width="0.2" textLength="11.00" lengthAdjust="spacingAndGlyphs" >FLT3</text>
<text x="461.50" y="326.80" font-size="5.5" text-anchor="start" fill="#231f20" stroke="#231f20" stroke-width="0.2" textLength="9.50" lengthAdjust="spacingAndGlyphs" >WT1</text>
<text x="461.50" y="334.20" font-size="5.5" text-anchor="start" fill="#231f20" stroke="#231f20" stroke-width="0.2" textLength="7.50" lengthAdjust="spacingAndGlyphs" >KIT</text>
<text x="461.50" y="340.60" font-size="5.5" text-anchor="start" fill="#231f20" stroke="#231f20" stroke-width="0.2" textLength="12.00" lengthAdjust="spacingAndGlyphs" >KRAS</text>
<text x="462.50" y="413.40" font-size="5.5" text-anchor="start" fill="#231f20" stroke="#231f20" stroke-width="0.2" textLength="7.50" lengthAdjust="spacingAndGlyphs" >KIT</text>
<text x="462.50" y="424.40" font-size="5.5" text-anchor="start" fill="#231f20" stroke="#231f20" stroke-width="0.2" textLength="17.50" lengthAdjust="spacingAndGlyphs" >PTPN11</text>
<text x="462.50" y="442.00" font-size="5.5" text-anchor="start" fill="#231f20" stroke="#231f20" stroke-width="0.2" textLength="28.00" lengthAdjust="spacingAndGlyphs" >WT1, PTPN11,</text>
<text x="462.50" y="448.40" font-size="5.5" text-anchor="start" fill="#231f20" stroke="#231f20" stroke-width="0.2" textLength="15.50" lengthAdjust="spacingAndGlyphs" >SMC1A,</text>
<text x="462.50" y="455.20" font-size="5.5" text-anchor="start" fill="#231f20" stroke="#231f20" stroke-width="0.2" textLength="26.50" lengthAdjust="spacingAndGlyphs" >FOXP1, NRAS</text>
</svg><div class="frame"></div></body></html>
